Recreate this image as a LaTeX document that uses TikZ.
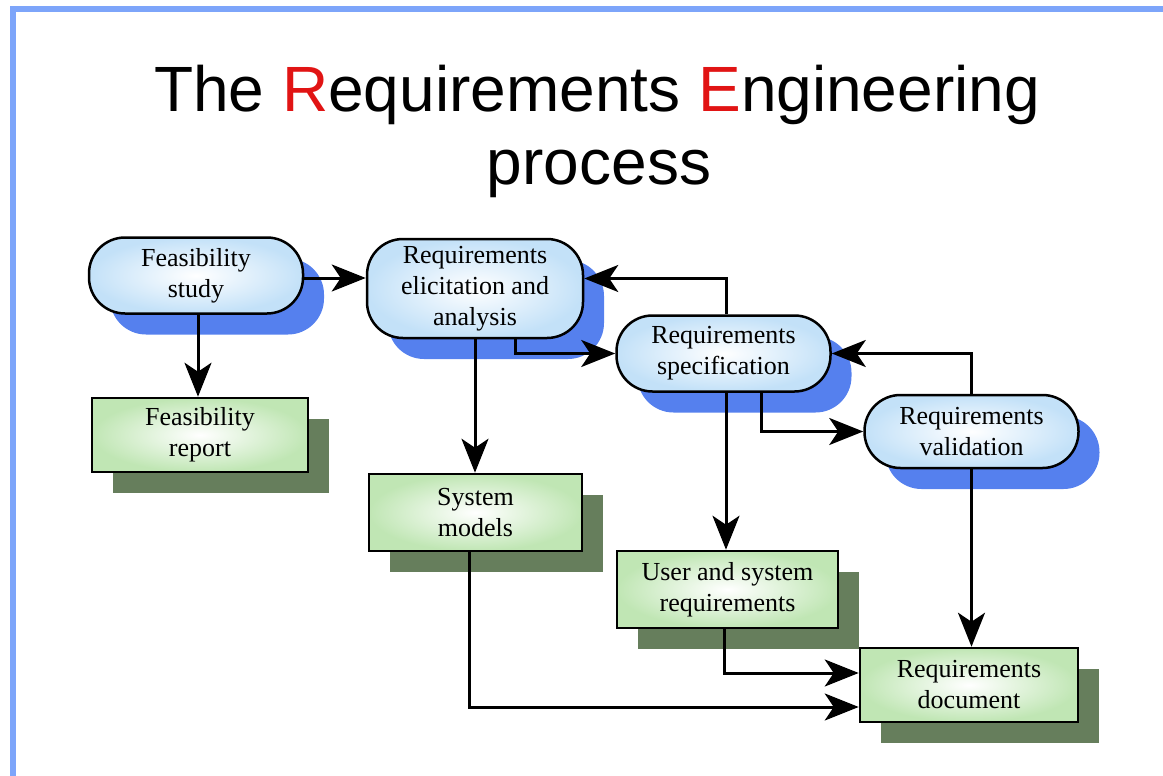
\documentclass[tikz,border=0pt]{standalone}
\usepackage{fontspec}
\setmainfont{Liberation Serif}
\newfontfamily\titlefont{Liberation Sans}
\usepackage{tikz}
\usetikzlibrary{arrows.meta, shadows}

\definecolor{framecol}{RGB}{125,165,250}
\definecolor{titlered}{RGB}{225,20,20}
\definecolor{bubblefill}{RGB}{195,225,248}
\definecolor{bubbleshadow}{RGB}{85,128,238}
\definecolor{boxfill}{RGB}{192,230,180}
\definecolor{boxshadow}{RGB}{102,126,92}

\tikzset{
  activity/.style={draw, line width=2.5pt, rounded corners=36pt, align=center,
    inner color=white, outer color=bubblefill,
    drop shadow={shadow xshift=21pt, shadow yshift=-21pt, fill=bubbleshadow, opacity=1},
    font=\fontsize{26}{31}\selectfont, minimum width=214pt, minimum height=76pt},
  document/.style={draw, line width=2.5pt, align=center,
    inner color=white, outer color=boxfill,
    drop shadow={shadow xshift=21pt, shadow yshift=-21pt, fill=boxshadow, opacity=1},
    font=\fontsize{26}{31}\selectfont, minimum width=216pt, minimum height=76pt},
  flow/.style={line width=3pt, -{Stealth[length=34pt, width=27pt, inset=9pt]}}
}

\begin{document}
\begin{tikzpicture}[x=1pt, y=-1pt]
\useasboundingbox (0,0) rectangle (1163,776);
\draw[framecol, line width=6pt] (13,776) -- (13,9.5) -- (1163,9.5);
%
\node(title1) at (597,112) [anchor=base, font=\titlefont\fontsize{64}{72}\selectfont]
  {The \textcolor{titlered}{R}equirements \textcolor{titlered}{E}ngineering};
\node(title2) at (599,184) [anchor=base, font=\titlefont\fontsize{64}{72}\selectfont] {process};
%
\node(feas) at (196,275.5) [activity] {Feasibility\\study};
\node(elic) at (475,288.5) [activity, minimum width=216pt, minimum height=99pt] {Requirements\\elicitation and\\analysis};
\node(spec) at (723.5,353.5) [activity] {Requirements\\specification};
\node(valid) at (971.5,431.5) [activity, minimum height=73pt] {Requirements\\validation};
%
\node(frep) at (200,435) [document, minimum height=74pt] {Feasibility\\report};
\node(sysm) at (475.5,512.5) [document, minimum width=213pt, minimum height=77pt] {System\\models};
\node(usr) at (727.5,589.5) [document, minimum width=221pt, minimum height=77pt] {User and system\\requirements};
\node(rdoc) at (969,685) [document, minimum width=218pt, minimum height=74pt] {Requirements\\document};
%
\draw[flow] ([yshift=-2.5pt]feas.east) -- ([yshift=-2.5pt]feas.east -| elic.west);
\draw[flow] ([xshift=2pt]feas.south) -- ([xshift=2pt]feas.south |- frep.north);
%
\draw[flow] (elic.south) -- (elic.south |- sysm.north);
\draw[flow] ([xshift=40pt]elic.south) |- (spec.west);
\draw[flow] ([xshift=3pt]spec.north) |- ([yshift=10pt]elic.east);
%
\draw[flow] ([xshift=2.5pt]spec.south) -- ([xshift=2.5pt]spec.south |- usr.north);
\draw[flow] ([xshift=38pt]spec.south) |- (valid.west);
\draw[flow] (valid.north) |- (spec.east);
%
\draw[flow] (valid.south) -- (valid.south |- rdoc.north);
\draw[flow] ([xshift=-3.5pt]usr.south) |- ([yshift=12pt]rdoc.west);
\draw[flow] ([xshift=-6.5pt]sysm.south) |- ([yshift=-22pt]rdoc.west);
\end{tikzpicture}
\end{document}
